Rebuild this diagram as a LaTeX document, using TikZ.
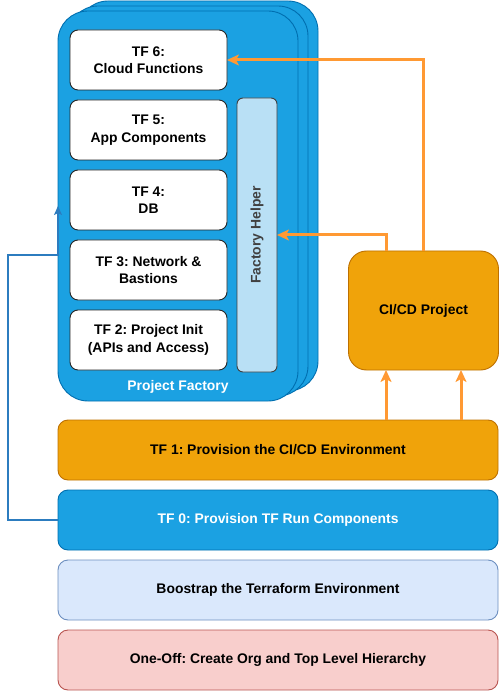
\documentclass[tikz,border=0pt]{standalone}
\usepackage{fontspec}
\setmainfont{Liberation Sans}
\usetikzlibrary{arrows.meta,calc}
\definecolor{pfill}{HTML}{1BA1E2}
\definecolor{pline}{HTML}{006EAF}
\definecolor{ofill}{HTML}{F0A30A}
\definecolor{oline}{HTML}{BD7000}
\definecolor{oarrow}{HTML}{FF9933}
\definecolor{bfill}{HTML}{DAE8FC}
\definecolor{bline}{HTML}{6C8EBF}
\definecolor{rfill}{HTML}{F8CECC}
\definecolor{rline}{HTML}{B85450}
\definecolor{hfill}{HTML}{B9E0F5}
\definecolor{bconn}{HTML}{2C7CBF}
\tikzset{
  lbl/.style={font=\fontsize{13.9}{17.5}\selectfont\bfseries\frenchspacing, align=center},
  pfbox/.style={draw=pline, fill=pfill, line width=0.9pt, rounded corners=30pt, inner sep=0pt, outer sep=0pt, minimum width=240pt, minimum height=390pt},
  tfbox/.style={lbl, draw=black!85, fill=white, line width=0.9pt, rounded corners=8pt, inner sep=0pt, outer sep=0pt, minimum width=157pt, minimum height=60pt},
  layer/.style={lbl, line width=0.9pt, rounded corners=10pt, inner sep=0pt, outer sep=0pt, minimum width=440pt, minimum height=60pt},
  oarr/.style={draw=oarrow, line width=3pt, -{Stealth[length=12pt,width=11pt,inset=3pt]}},
  barr/.style={draw=bconn, line width=1.2pt, -{Stealth[length=9pt,width=8pt,inset=2pt]}}
}
\begin{document}
\begin{tikzpicture}[x=1pt,y=-1pt]
\useasboundingbox (0,0) rectangle (499,692);
% project factory stack
\node[pfbox] (pf3) at (198,196) {};
\node[pfbox] (pf2) at (188,201) {};
\node[pfbox] (pf1) at (178,206) {};
\node[lbl, text=white] (pflbl) at (178,387) {Project Factory};
% TF boxes
\node[tfbox] (tf6) at (148.5,60) {TF 6:\\Cloud Functions};
\node[tfbox] (tf5) at (148.5,130) {TF 5:\\App Components};
\node[tfbox] (tf4) at (148.5,200) {TF 4:\\DB};
\node[tfbox] (tf3) at (148.5,270) {TF 3: Network \&\\Bastions};
\node[tfbox] (tf2) at (148.5,340) {TF 2: Project Init\\(APIs and Access)};
% factory helper
\node[draw=black!75, fill=hfill, line width=0.9pt, rounded corners=6pt, inner sep=0pt, outer sep=0pt, minimum width=40pt, minimum height=274pt] (fh) at (257,235) {};
\node[lbl, text=black!75, rotate=90] (fhlbl) at (257,235) {Factory Helper};
% CI/CD project
\node[lbl, draw=oline, fill=ofill, line width=0.9pt, rounded corners=18pt, inner sep=0pt, outer sep=0pt, minimum width=150pt, minimum height=119pt] (cicd) at (423.5,310.5) {CI/CD Project};
% layers
\node[layer, draw=oline, fill=ofill] (tf1) at (278,450) {TF 1: Provision the CI/CD Environment};
\node[layer, draw=pline, fill=pfill, text=white] (tf0) at (278,520) {TF 0: Provision TF Run Components};
\node[layer, draw=bline, fill=bfill] (boot) at (278,590) {Boostrap the Terraform Environment};
\node[layer, draw=rline, fill=rfill] (once) at (278,660) {One-Off: Create Org and Top Level Hierarchy};
% coordinates
\coordinate (ca) at ($(cicd.north west)!0.25!(cicd.north east)$);
\coordinate (cb) at ($(cicd.north west)!0.75!(cicd.north east)$);
\coordinate (bl) at (8,255);
\coordinate (btip) at (58,206);
% orange connectors
\draw[oarr] (cicd.north) |- (tf6.east);
\draw[oarr] (ca) |- (fh.east);
\draw[oarr] (tf1.north -| ca) -- (cicd.south -| ca);
\draw[oarr] (tf1.north -| cb) -- (cicd.south -| cb);
% blue connector
\draw[barr] (tf0.west) -| (bl) -- (bl -| btip) -- (btip);
\end{tikzpicture}
\end{document}
